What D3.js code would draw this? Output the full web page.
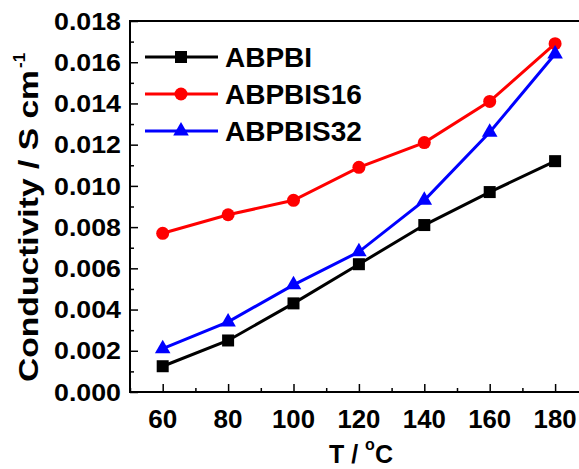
<!DOCTYPE html>
<html>
<head>
<meta charset="utf-8">
<script src="https://cdn.jsdelivr.net/npm/d3@7"></script>
<style>
  body { margin: 0; background: #fff; }
  text { font-family: "Liberation Sans", Arial, sans-serif; font-weight: bold; fill: #000; }
</style>
</head>
<body>
<div id="chart"></div>
<script>
// data
var temps = [60, 80, 100, 120, 140, 160, 180];
var abpbi = [0.00125, 0.0025, 0.0043, 0.0062, 0.0081, 0.0097, 0.0112];
var abpbis16 = [0.0077, 0.0086, 0.0093, 0.0109, 0.0121, 0.0141, 0.0169];
var abpbis32 = [0.0021, 0.0034, 0.0052, 0.0068, 0.0093, 0.0126, 0.0164];
var seriesNames = ["ABPBI", "ABPBIS16", "ABPBIS32"];
var seriesColors = ["#000000", "#ff0000", "#0000ff"];
var seriesShapes = ["square", "circle", "triangle"];
var yTicks = [0, 0.002, 0.004, 0.006, 0.008, 0.010, 0.012, 0.014, 0.016, 0.018];
var xTicks = [60, 80, 100, 120, 140, 160, 180];

var w = 579, h = 469;
var plotLeft = 130, plotTop = 21, plotBottom = 392;
var svg = d3.select("#chart").append("svg").attr("width", w).attr("height", h);

var x = d3.scaleLinear().domain([50, 190]).range([plotLeft, plotLeft + 140 * 3.27]);
var y = d3.scaleLinear().domain([0, 0.018]).range([plotBottom, plotTop]);

// frame (right side runs off the picture)
svg.append("line").attr("x1", plotLeft).attr("x2", w + 10).attr("y1", plotTop).attr("y2", plotTop)
    .style("stroke", "#000").style("stroke-width", 2);

// x axis, ticks inside
var xAxis = svg.append("g").attr("transform", "translate(0," + plotBottom + ")")
    .call(d3.axisTop(x).tickValues(d3.range(50, 191, 10)).tickSize(4).tickFormat(""));
xAxis.selectAll(".tick line").filter(function (d) { return d % 20 == 0; }).attr("y2", -8);
xAxis.selectAll(".tick line").style("stroke-width", 1.5);
xAxis.select(".domain").remove();
svg.append("line").attr("x1", plotLeft).attr("x2", w + 10).attr("y1", plotBottom).attr("y2", plotBottom)
    .style("stroke", "#000").style("stroke-width", 2);

svg.append("g").selectAll("text").data(xTicks).enter().append("text")
    .attr("x", function (d) { return x(d); }).attr("y", 428)
    .attr("text-anchor", "middle").style("font-size", "25px")
    .attr("textLength", function (d) { return d >= 100 ? 43 : 29; })
    .attr("lengthAdjust", "spacingAndGlyphs")
    .text(function (d) { return d; });

// y axis, ticks inside
var yAxis = svg.append("g").attr("transform", "translate(" + plotLeft + ",0)")
    .call(d3.axisRight(y).tickValues(d3.range(0, 19).map(function (i) { return i * 0.001; }))
        .tickSize(4).tickFormat(""));
yAxis.selectAll(".tick line").filter(function (d, i) { return i % 2 == 0; }).attr("x2", 8);
yAxis.selectAll(".tick line").style("stroke-width", 1.5);
yAxis.select(".domain").remove();
svg.append("line").attr("x1", plotLeft).attr("x2", plotLeft).attr("y1", plotTop - 1).attr("y2", plotBottom + 1)
    .style("stroke", "#000").style("stroke-width", 2);

svg.append("g").selectAll("text").data(yTicks).enter().append("text")
    .attr("x", 121).attr("y", function (d) { return y(d); }).attr("dy", "0.36em")
    .attr("text-anchor", "end").style("font-size", "24px")
    .attr("textLength", 67).attr("lengthAdjust", "spacingAndGlyphs")
    .text(function (d) { return d.toFixed(3); });

// axis titles
svg.append("text").attr("transform", "translate(38,382) rotate(-90)")
    .attr("text-anchor", "start").style("font-size", "28px")
    .attr("textLength", 312).attr("lengthAdjust", "spacingAndGlyphs")
    .text("Conductivity / S cm");
svg.append("text").attr("transform", "translate(25,68) rotate(-90)")
    .attr("text-anchor", "start").style("font-size", "17px")
    .text("-1");

var xt = svg.append("text").attr("x", 329).attr("y", 463).style("font-size", "25px");
xt.append("tspan").text("T / ");
xt.append("tspan").attr("y", 450).style("font-size", "16px").text("o");
xt.append("tspan").attr("y", 463).text("C");

function drawMarker(g, shape, color) {
    if (shape == "square")
        g.append("rect").attr("x", -6).attr("y", -6).attr("width", 12).attr("height", 12).style("fill", color);
    else if (shape == "circle")
        g.append("circle").attr("r", 6.5).style("fill", color);
    else
        g.append("path").attr("d", d3.symbol().type(d3.symbolTriangle).size(105)).style("fill", color);
}

var allSeries = [abpbi, abpbis16, abpbis32];
var line = d3.line().x(function (d, i) { return x(temps[i]); }).y(function (d) { return y(d); });

allSeries.forEach(function (vals, k) {
    svg.append("path").datum(vals).attr("d", line)
        .style("fill", "none").style("stroke", seriesColors[k]).style("stroke-width", 3);
    var pts = svg.append("g").selectAll("g").data(vals).enter().append("g")
        .attr("transform", function (d, i) { return "translate(" + x(temps[i]) + "," + y(d) + ")"; });
    pts.each(function () { drawMarker(d3.select(this), seriesShapes[k], seriesColors[k]); });
});

// legend
var legend = svg.append("g").attr("class", "legend");
seriesNames.forEach(function (name, k) {
    var ly = 57 + k * 37;
    legend.append("line").attr("x1", 145).attr("x2", 218).attr("y1", ly).attr("y2", ly)
        .style("stroke", seriesColors[k]).style("stroke-width", 3);
    var m = legend.append("g").attr("transform", "translate(181," + ly + ")");
    drawMarker(m, seriesShapes[k], seriesColors[k]);
    legend.append("text").attr("x", 225).attr("y", ly).attr("dy", "0.36em")
        .style("font-size", "28px").text(name);
});
</script>
</body>
</html>
